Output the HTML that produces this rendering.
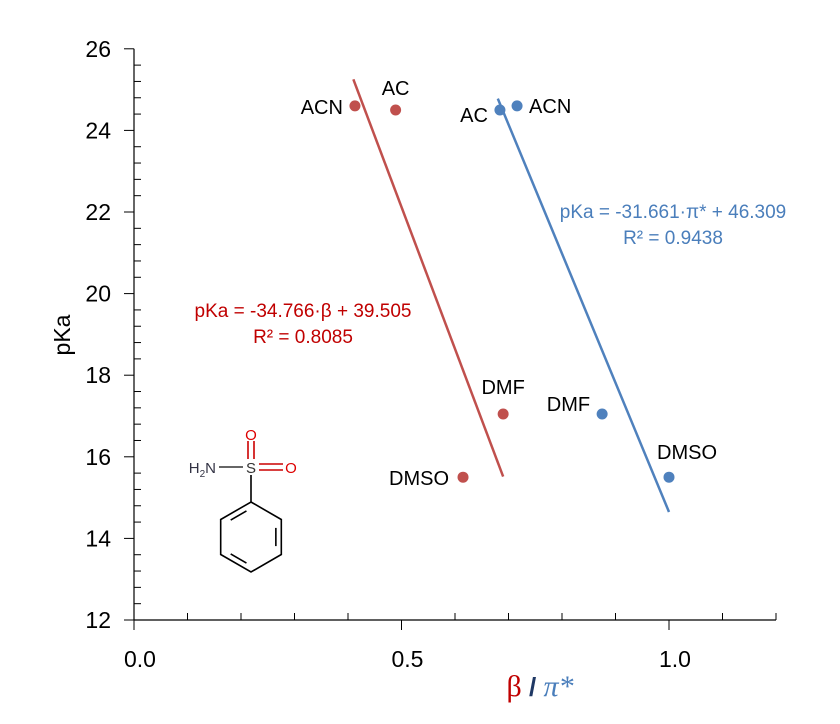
<!DOCTYPE html>
<html><head><meta charset="utf-8"><style>
body{margin:0;background:#fff}
svg{display:block;font-family:"Liberation Sans",sans-serif}
</style></head><body>
<svg id="chart" width="840" height="724"></svg>
<script>
const redNames=["ACN","AC","DMF","DMSO"];
const redX=[0.413,0.489,0.690,0.615];
const redY=[24.6,24.5,17.05,15.5];
const blueNames=["AC","ACN","DMF","DMSO"];
const blueX=[0.684,0.716,0.875,1.0];
const blueY=[24.5,24.6,17.05,15.5];
const redFit=[-34.766,39.505,0.41,0.69];
const blueFit=[-31.661,46.309,0.68,1.0];
const yTicks=[12,14,16,18,20,22,24,26];
const xTicks=[0.0,0.5,1.0];

const NS="http://www.w3.org/2000/svg";
const svg=document.getElementById('chart');
const X=v=>134+v*535, Y=v=>620-(v-12)*40.8;
function mk(tag,attrs,parent){const e=document.createElementNS(NS,tag);for(const k in attrs)e.setAttribute(k,attrs[k]);(parent||svg).appendChild(e);return e;}
function txt(s,x,y,attrs){const e=mk('text',Object.assign({x:x,y:y},attrs));e.textContent=s;return e;}

let g=mk('g',{});


mk('line',{x1:134,y1:Y(12),x2:134,y2:Y(26),stroke:'#000','stroke-width':1.2},g);
mk('line',{x1:134,y1:Y(12),x2:X(1.2),y2:Y(12),stroke:'#000','stroke-width':1.2},g);
for(let v=12;v<=26.001;v+=0.4){const maj=Math.abs((v-12)/2-Math.round((v-12)/2))<0.01;
 if(maj)mk('line',{x1:124,y1:Y(v),x2:134,y2:Y(v),stroke:'#000'},g);
 else mk('line',{x1:134,y1:Y(v),x2:141,y2:Y(v),stroke:'#000'},g);}
for(let i=0;i<=12;i++){const v=i/10;
 if(i%5==0)mk('line',{x1:X(v),y1:Y(12),x2:X(v),y2:Y(12)+10,stroke:'#000'},g);
 else mk('line',{x1:X(v),y1:Y(12),x2:X(v),y2:Y(12)-7,stroke:'#000'},g);}
yTicks.forEach(v=>{const t=txt(String(v),111,Y(v)+8,{'text-anchor':'end','font-size':23});
 });
xTicks.forEach(v=>{const t=txt(v.toFixed(1),X(v)+6,Y(12)+47,{'text-anchor':'middle','font-size':23});
 });
let yt=txt('pKa',0,0,{'font-size':23,transform:'translate(70,335) rotate(-90)','text-anchor':'middle'});

let xt=mk('text',{x:540,y:696,'text-anchor':'middle','font-size':30});

xt.innerHTML='<tspan fill="#c00000" font-family="Liberation Serif">β</tspan><tspan fill="#1f3864" font-size="26" font-weight="bold"> / </tspan><tspan fill="#4a7ebb" font-family="Liberation Serif" font-style="italic">π*</tspan>';

function series(xs,ys,names,fit,color,labelPos,nm){
 const l=mk('line',{x1:X(fit[2]),y1:Y(fit[0]*fit[2]+fit[1]),x2:X(fit[3]),y2:Y(fit[0]*fit[3]+fit[1]),stroke:color,'stroke-width':2.5});
 
 xs.forEach((x,i)=>{const c=mk('circle',{cx:X(x),cy:Y(ys[i]),r:5.5,fill:color});
  
  const p=labelPos[i];const t=txt(names[i],X(x)+p[0],Y(ys[i])+p[1],{'font-size':20,'text-anchor':p[2]});
  });
}
series(redX,redY,redNames,redFit,'#c0504d',[[-12,8,'end'],[0,-15,'middle'],[0,-20,'middle'],[-14,8,'end']],'red');
series(blueX,blueY,blueNames,blueFit,'#4f81bd',[[-12,12,'end'],[12,7,'start'],[-12,-3,'end'],[18,-18,'middle']],'blue');

let e1=txt('pKa = -34.766·β + 39.505',303,317,{'font-size':19,fill:'#c00000','text-anchor':'middle'});

let e2=txt('R² = 0.8085',303,343,{'font-size':19,fill:'#c00000','text-anchor':'middle'});

let e3=txt('pKa = -31.661·π* + 46.309',673,218,{'font-size':19,fill:'#4a7ebb','text-anchor':'middle'});

let e4=txt('R² = 0.9438',673,244,{'font-size':19,fill:'#4a7ebb','text-anchor':'middle'});


let m=mk('g',{stroke:'#000','stroke-width':1.6,fill:'none'});

const cx=251,cy=537,r=35,pts=[];
for(let i=0;i<6;i++){const a=-Math.PI/2+i*Math.PI/3;pts.push([cx+r*Math.cos(a),cy+r*Math.sin(a)]);}
mk('polygon',{points:pts.map(p=>p.join(',')).join(' ')},m);
[[1,2],[3,4],[5,0]].forEach(([a,b])=>{const p=pts[a],q=pts[b];const sx=(cx-p[0])*0.18,sy=(cy-p[1])*0.18,sx2=(cx-q[0])*0.18,sy2=(cy-q[1])*0.18;
 const t=0.15;mk('line',{x1:p[0]+sx+(q[0]-p[0])*t,y1:p[1]+sy+(q[1]-p[1])*t,x2:q[0]+sx2-(q[0]-p[0])*t,y2:q[1]+sy2-(q[1]-p[1])*t},m);});
mk('line',{x1:251,y1:502,x2:251,y2:475},m);
mk('line',{x1:219,y1:467,x2:243,y2:467,stroke:'#333'},m);
mk('line',{x1:248,y1:441,x2:248,y2:459,stroke:'#c00'},m);mk('line',{x1:254,y1:441,x2:254,y2:459,stroke:'#c00'},m);
mk('line',{x1:259,y1:464,x2:283,y2:464,stroke:'#c00'},m);mk('line',{x1:259,y1:470,x2:283,y2:470,stroke:'#c00'},m);
txt('S',251,473,{'font-size':15,'text-anchor':'middle',fill:'#333'});
txt('O',251,440,{'font-size':15,'text-anchor':'middle',fill:'#d00'});
txt('O',291,473,{'font-size':15,'text-anchor':'middle',fill:'#d00'});
const hn=txt('',216,473,{'font-size':15,'text-anchor':'end',fill:'#334'});
hn.innerHTML='H<tspan font-size="10" dy="4">2</tspan><tspan dy="-4">N</tspan>';
</script>
</body></html>
